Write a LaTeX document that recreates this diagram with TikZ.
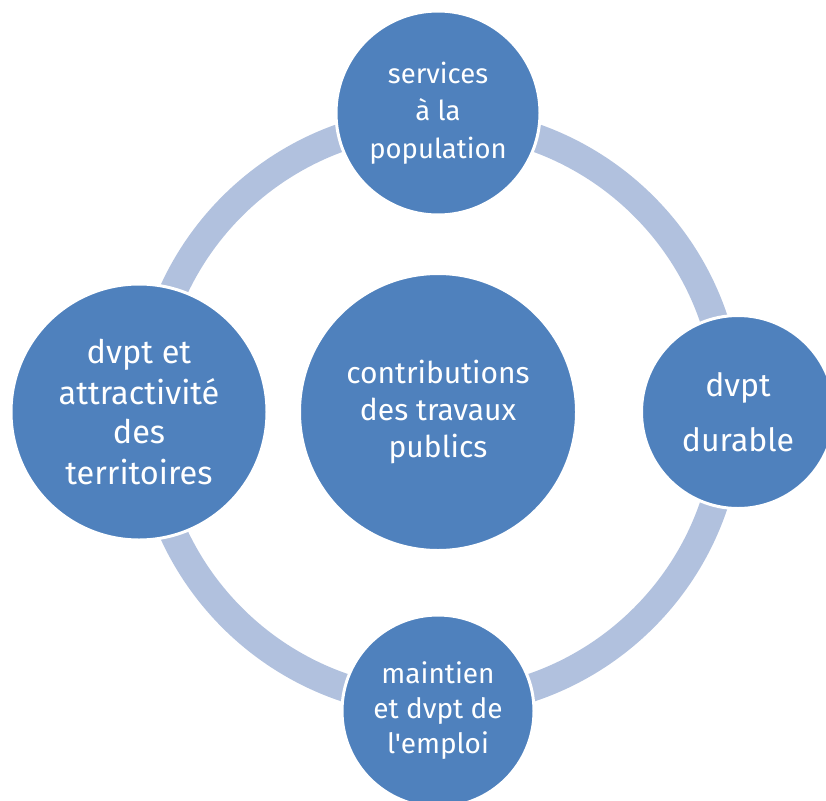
\documentclass[tikz,border=0pt]{standalone}
\usepackage{fontspec}
\setmainfont{Fira Sans}[Ligatures=TeXOff]
\definecolor{bubblue}{RGB}{79,129,189}
\definecolor{ringblue}{RGB}{177,193,222}

\begin{document}
\begin{tikzpicture}[x=1pt, y=-1pt,
bubble/.style={circle, fill=bubblue, draw=white, line width=3pt, text=white, align=center, inner sep=0pt},
ring/.style={draw=ringblue, line width=28pt},]
 \clip (0,0) rectangle (826,800);
 \node[bubble, minimum size=277pt, font=\fontsize{30}{37}\selectfont] (hub) at (438,412) {contributions\\des travaux\\publics};
 \draw[ring] (hub.center) circle[radius=291];
 \node[bubble, minimum size=204pt, above of=hub, node distance=299pt, font=\fontsize{27.5}{37.5}\selectfont] (serv) {services\\à la\\population};
 \node[bubble, minimum size=193pt, right of=hub, node distance=300pt, font=\fontsize{32}{55}\selectfont] (durable) {dvpt\\durable};
 \node[bubble, minimum size=192pt, below of=hub, node distance=299pt, font=\fontsize{28}{35}\selectfont] (emploi) {maintien\\et dvpt de\\l'emploi};
 \node[bubble, minimum size=256pt, left of=hub, node distance=299pt, font=\fontsize{32.5}{40}\selectfont] (territ) {dvpt et\\attractivité\\des\\territoires};

\end{tikzpicture}
\end{document}
